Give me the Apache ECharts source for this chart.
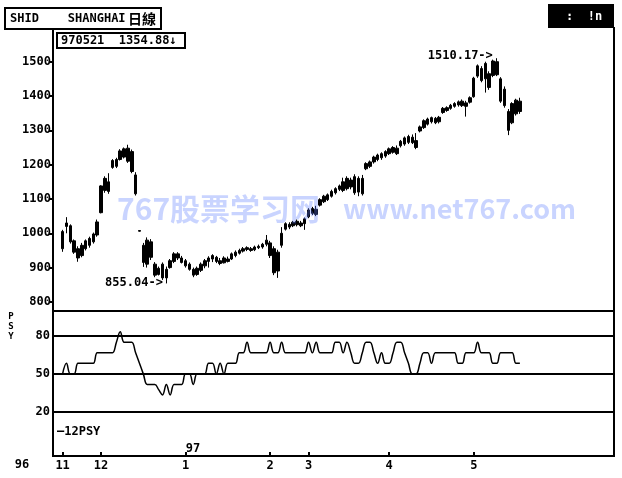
<!DOCTYPE html>
<html><head><meta charset="utf-8">
<script src="https://cdn.jsdelivr.net/npm/echarts@6/dist/echarts.min.js"></script>
<style>html,body{margin:0;padding:0;background:#fff}#c{width:622px;height:478px}</style>
</head><body><div id="c"></div>
<script>
// Daily candles, 1996-11-18 .. 1997-05-21 (Shanghai composite)
const opens  = [1005,1020,1022,978,955,935,955,965,975,995,
  1060,1125,1150,1192,1195,1215,1222,1248,1238,1170,
  1008,915,980,975,910,880,910,870,900,918,
  940,928,920,910,895,880,892,905,918,925,
  930,920,914,925,925,935,942,948,953,955,
  952,958,960,968,972,955,890,965,1012,1018,
  1022,1025,1030,1028,1048,1058,1070,1082,1092,1098,
  1108,1118,1128,1150,1130,1155,1165,1120,1160,1188,
  1195,1208,1215,1220,1225,1232,1236,1248,1255,1260,
  1265,1280,1270,1298,1308,1318,1325,1335,1325,1352,
  1358,1364,1370,1374,1385,1380,1382,1398,1458,1480,
  1450,1465,1460,1500,1450,1420,1355,1322,1348,1385];
const closes = [955,1030,975,945,928,965,978,985,998,1033,
  1138,1160,1122,1212,1215,1240,1246,1210,1180,1115,
  1006,965,910,930,878,898,870,895,920,940,
  928,915,905,895,878,898,910,920,928,935,
  918,912,928,918,940,945,950,955,958,950,
  960,962,968,980,935,885,945,1000,1028,1026,
  1032,1035,1022,1042,1068,1072,1055,1098,1108,1112,
  1122,1130,1138,1125,1160,1135,1118,1160,1115,1203,
  1208,1222,1228,1232,1238,1246,1250,1232,1268,1278,
  1282,1264,1250,1310,1328,1333,1337,1322,1338,1364,
  1366,1373,1378,1383,1372,1370,1395,1452,1488,1445,
  1495,1425,1502,1462,1385,1372,1300,1378,1388,1354.88];
const lows   = [946,1000,970,940,917,930,950,958,970,990,
  1058,1118,1115,1188,1190,1212,1218,1205,1175,1110,
  1005,902,900,922,872,877,864,855.04,897,913,
  922,912,900,891,872,876,887,898,900,916,
  913,907,912,915,922,930,938,944,948,946,
  948,954,955,962,928,878,870,958,1008,1012,
  1018,1020,1018,1010,1044,1053,1050,1078,1088,1094,
  1104,1113,1123,1120,1125,1128,1112,1108,1110,1184,
  1190,1203,1210,1214,1220,1228,1232,1228,1250,1255,
  1260,1260,1245,1294,1304,1314,1320,1318,1320,1348,
  1354,1360,1366,1369,1368,1340,1378,1395,1453,1440,
  1410,1418,1455,1458,1380,1366,1286,1318,1343,1348];
const highs  = [1010,1047,1026,982,962,972,982,990,1002,1040,
  1140,1166,1175,1216,1220,1245,1250,1258,1244,1178,
  1009,972,988,983,916,903,915,903,925,945,
  945,934,925,915,900,903,915,925,933,939,
  934,928,933,932,944,950,955,960,962,960,
  964,967,972,995,978,962,952,1018,1032,1032,
  1036,1040,1036,1046,1073,1077,1080,1102,1112,1116,
  1127,1134,1142,1162,1166,1162,1172,1166,1170,1207,
  1212,1226,1232,1236,1242,1250,1254,1256,1272,1282,
  1287,1288,1292,1314,1332,1337,1340,1339,1342,1368,
  1370,1377,1382,1387,1390,1386,1399,1456,1492,1487,
  1500,1472,1506,1510.17,1455,1428,1362,1382,1392,1395];
// 12-day PSY
const psy = [50,58.33,50,50,58.33,58.33,58.33,58.33,58.33,66.67,
  66.67,66.67,66.67,66.67,75,83.33,75,75,75,66.67,
  58.33,50,41.67,41.67,41.67,37.5,33.33,41.67,33.33,41.67,
  41.67,41.67,50,50,41.67,50,50,50,58.33,58.33,
  50,58.33,50,58.33,58.33,58.33,66.67,66.67,75,66.67,
  66.67,66.67,66.67,66.67,75,66.67,66.67,75,66.67,66.67,
  66.67,66.67,66.67,66.67,75,66.67,75,66.67,66.67,66.67,
  66.67,75,75,66.67,75,66.67,58.33,58.33,66.67,75,
  75,66.67,58.33,66.67,58.33,58.33,66.67,75,75,66.67,
  58.33,50,50,58.33,66.67,66.67,58.33,66.67,66.67,66.67,
  66.67,66.67,66.67,58.33,58.33,66.67,66.67,66.67,75,66.67,
  66.67,66.67,58.33,58.33,66.67,66.67,66.67,66.67,58.33,58.33];
const monthTickIdx = [0,10,32,54,64,85,107];
const monthTickLabels = ['11','12','1','2','3','4','5'];
const psyLevels = [100,80,50,20];
const psyLabelLevels = [20,50,80];

const MONO = '"DejaVu Sans Mono", "Liberation Mono", monospace';
const N = opens.length, padStart = 2, padEnd = 24;
const total = padStart + N + padEnd;
const categories = Array.from({length: total}, (_, k) => 'd' + k);
const candleData = categories.map((_, k) => { const i = k - padStart; return (i >= 0 && i < N) ? [opens[i], closes[i], lows[i], highs[i]] : '-'; });
const psyData = categories.map((_, k) => { const i = k - padStart; return (i >= 0 && i < N) ? psy[i] : '-'; });
const tickSet = {}; monthTickIdx.forEach((t, j) => { tickSet[t + padStart] = monthTickLabels[j]; });
let hiI = 0, loI = 0;
highs.forEach((v, i) => { if (v > highs[hiI]) hiI = i; });
lows.forEach((v, i) => { if (v < lows[loI]) loI = i; });

const lbl = {color: '#000', fontFamily: MONO, fontWeight: 'bold', fontSize: 12};
const graphics = [
  {type: 'line', shape: {x1: 53, y1: 29, x2: 53, y2: 457}, style: {stroke: '#000', lineWidth: 2}},
  {type: 'line', shape: {x1: 614, y1: 27, x2: 614, y2: 457}, style: {stroke: '#000', lineWidth: 2}},
  {type: 'rect', shape: {x: 5, y: 8, width: 156, height: 21}, style: {fill: '#fff', stroke: '#000', lineWidth: 2}},
  {type: 'text', x: 10, y: 19, style: {text: 'SHID    SHANGHAI', font: 'bold 12px ' + MONO, fill: '#000', textVerticalAlign: 'middle'}},
  {type: 'text', x: 128, y: 19, style: {text: '日線', font: 'bold 14px "Noto Sans CJK SC"', fill: '#000', textVerticalAlign: 'middle'}},
  {type: 'rect', shape: {x: 57, y: 33, width: 128, height: 15}, style: {fill: '#fff', stroke: '#000', lineWidth: 2}},
  {type: 'text', x: 61, y: 41, style: {text: '970521  1354.88↓', font: 'bold 12px ' + MONO, fill: '#000', textVerticalAlign: 'middle'}},
  {type: 'rect', shape: {x: 548, y: 4, width: 66, height: 24}, style: {fill: '#000'}},
  {type: 'text', x: 566, y: 17, style: {text: ':  !n', font: 'bold 12px ' + MONO, fill: '#fff', textVerticalAlign: 'middle'}},
  {type: 'text', x: 22, y: 465, style: {text: '96', font: 'bold 12px ' + MONO, fill: '#000', textAlign: 'center', textVerticalAlign: 'middle'}},
  {type: 'text', x: 193, y: 449, style: {text: '97', font: 'bold 12px ' + MONO, fill: '#000', textAlign: 'center', textVerticalAlign: 'middle'}},
  {type: 'text', x: 57, y: 432, style: {text: '—12PSY', font: 'bold 12px ' + MONO, fill: '#000', textVerticalAlign: 'middle'}},
  {type: 'text', x: 11, y: 327, style: {text: 'P\nS\nY', font: 'bold 9px ' + MONO, lineHeight: 10, fill: '#000', textAlign: 'center', textVerticalAlign: 'middle'}},
  {type: 'text', x: 117, y: 209, z: 100, style: {text: '767股票学习网', font: 'bold 30px "Noto Sans CJK SC"', fill: 'rgba(90,125,255,0.33)', textVerticalAlign: 'middle'}},
  {type: 'text', x: 343, y: 209, z: 100, style: {text: 'www.net767.com', font: 'bold 27px "Noto Sans CJK SC"', fill: 'rgba(90,125,255,0.33)', textVerticalAlign: 'middle'}}
];

const chart = echarts.init(document.getElementById('c'));
chart.setOption({
  animation: false,
  backgroundColor: '#fff',
  grid: [
    {left: 53, right: 8, top: 61.7, height: 240.2, outerBoundsMode: 'none'},
    {left: 53, right: 8, top: 310.7, height: 145.3, outerBoundsMode: 'none'}
  ],
  xAxis: [
    {type: 'category', gridIndex: 0, data: categories, boundaryGap: true, show: false},
    {type: 'category', gridIndex: 1, data: categories, boundaryGap: true,
     axisLine: {onZero: false, lineStyle: {color: '#000', width: 2}},
     axisTick: {show: true, inside: true, length: 4, alignWithLabel: true, interval: (idx) => (idx in tickSet), lineStyle: {color: '#000', width: 2}},
     axisLabel: Object.assign({interval: (idx) => (idx in tickSet), formatter: (v, idx) => tickSet[idx] || '', margin: 4}, lbl),
     splitLine: {show: false}}
  ],
  yAxis: [
    {type: 'value', gridIndex: 0, min: 800, max: 1500, interval: 100, splitLine: {show: false},
     axisLine: {show: true, lineStyle: {color: '#000', width: 2}},
     axisTick: {show: true, length: 4, lineStyle: {color: '#000', width: 2}},
     axisLabel: Object.assign({margin: 2, formatter: (v) => String(v)}, lbl)},
    {type: 'value', gridIndex: 1, min: -15, max: 100, interval: 5, splitLine: {show: false},
     axisLine: {show: true, onZero: false, lineStyle: {color: '#000', width: 2}},
     axisTick: {show: false},
     axisLabel: Object.assign({margin: 3, formatter: (v) => psyLabelLevels.includes(v) ? String(v) : ''}, lbl)}
  ],
  series: [
    {type: 'candlestick', xAxisIndex: 0, yAxisIndex: 0, data: candleData, barWidth: 3, clip: false,
     itemStyle: {color: '#000', color0: '#000', borderColor: '#000', borderColor0: '#000', borderWidth: 1},
     markPoint: {symbol: 'circle', symbolSize: 1, itemStyle: {color: '#000'},
       label: Object.assign({show: true, position: 'left', distance: 3}, lbl),
       data: [
         {coord: [categories[loI + padStart], lows[loI]], label: {formatter: lows[loI].toFixed(2) + '->'}}
       ]}},
    {type: 'line', xAxisIndex: 1, yAxisIndex: 1, data: psyData, symbol: 'none', smooth: 0.4,
     lineStyle: {color: '#000', width: 1.5},
     markLine: {silent: true, symbol: 'none', label: {show: false}, lineStyle: {color: '#000', width: 2, type: 'solid'},
       data: psyLevels.map(v => ({yAxis: v}))}}
  ],
  graphic: graphics
});
// the high sits above the axis max, so its label is placed through the axis scale
const hp = chart.convertToPixel({seriesIndex: 0}, [categories[hiI + padStart], highs[hiI]]);
graphics.push({type: 'text', x: hp[0] - 4, y: hp[1] - 2,
  style: {text: highs[hiI].toFixed(2) + '->', font: 'bold 12px ' + MONO, fill: '#000', textAlign: 'right', textVerticalAlign: 'middle'}});
chart.setOption({graphic: graphics});
</script></body></html>
